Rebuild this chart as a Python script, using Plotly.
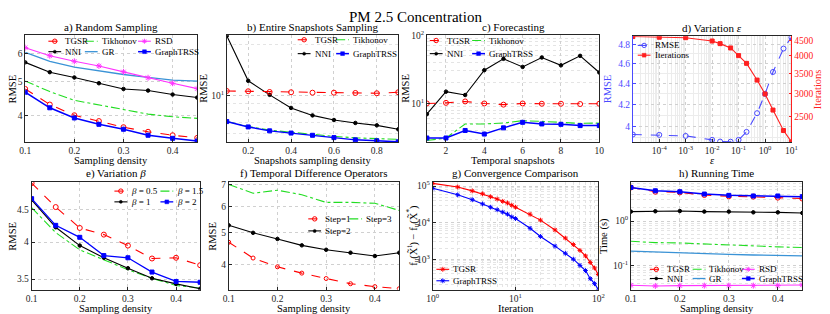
import math
import plotly.graph_objects as go

# ---------------- data ----------------
x_density = [0.1, 0.15, 0.2, 0.25, 0.3, 0.35, 0.4, 0.45]

a_tgsr = [4.76, 4.30, 4.01, 3.86, 3.71, 3.60, 3.52, 3.46]
a_tikh = [5.01, 4.68, 4.42, 4.29, 4.17, 4.04, 3.97, 3.93]
a_rsd = [6.23, 5.91, 5.70, 5.53, 5.32, 5.12, 4.94, 4.77]
a_nni = [5.66, 5.31, 5.13, 4.94, 4.76, 4.71, 4.59, 4.50]
a_gr = [6.04, 5.70, 5.49, 5.35, 5.23, 5.13, 5.04, 5.01]
a_graph = [4.66, 4.21, 3.94, 3.78, 3.66, 3.52, 3.45, 3.39]

x_snap = [0.1, 0.2, 0.3, 0.4, 0.5, 0.6, 0.7, 0.8, 0.9]
b_tgsr = [10.64, 10.6, 10.5, 10.46, 10.4, 10.4, 10.36, 10.32, 10.46]
b_tikh = [7.05, 6.6, 6.28, 6.1, 5.92, 5.78, 5.66, 5.6, 5.55]
b_nni = [22.4, 12.2, 10.1, 8.47, 7.66, 7.2, 6.92, 6.7, 6.35]
b_graph = [7.05, 6.56, 6.22, 6.04, 5.86, 5.68, 5.51, 5.44, 5.37]

x_temporal = [1, 2, 3, 4, 5, 6, 7, 8, 9, 10]
c_tgsr = [10.0, 10.2, 10.7, 10.0, 9.6, 10.0, 9.9, 9.9, 9.8, 9.9]
c_tikh = [2.85, 3.11, 5.0, 5.0, 5.16, 5.58, 5.45, 5.28, 5.10, 5.16]
c_nni = [6.95, 14.9, 13.3, 30.8, 45.2, 34.4, 47.3, 36.3, 50.0, 28.5]
c_graph = [3.11, 3.11, 4.01, 3.55, 4.38, 5.28, 5.0, 4.94, 4.73, 4.73]

x_eps = [1e-5, 1e-4, 1e-3, 1e-2, 2e-2, 5e-2, 1e-1, 2e-1, 5e-1, 1, 2, 5, 10]
d_rmse = [3.929, 3.926, 3.917, 3.883, 3.868, 3.867, 3.883, 3.952, 4.120, 4.30, 4.515, 4.756, 4.876]
d_iter = [4640, 4615, 4600, 4484, 4394, 4250, 4007, 3775, 3319, 2983, 2635, 2251, 2062]

e_b05 = [4.95, 4.54, 4.21, 4.11, 3.95, 3.77, 3.78, 3.68]
e_b1 = [4.66, 4.22, 3.95, 3.78, 3.64, 3.51, 3.44, 3.38]
e_b15 = [4.53, 4.14, 3.89, 3.75, 3.62, 3.51, 3.42, 3.39]
e_b2 = [4.68, 4.25, 4.07, 3.81, 3.78, 3.59, 3.47, 3.46]

f_s1 = [4.67, 4.18, 3.93, 3.76, 3.62, 3.49, 3.42, 3.37]
f_s2 = [5.26, 4.99, 4.78, 4.57, 4.43, 4.34, 4.24, 4.34]
f_s3 = [7.01, 6.59, 6.73, 6.52, 6.18, 6.18, 6.14, 5.84]

g_iter = [1, 2, 3, 4, 5, 6, 7, 8, 9, 10, 15, 20, 30, 40, 50, 60, 70, 80, 90, 100]
g_tgsr = [1.18e5, 9.4e4, 7.36e4, 6.12e4, 5.09e4, 4.41e4, 3.82e4, 3.45e4, 2.99e4, 2.64e4,
          1.69e4, 1.17e4, 6.3e3, 3.78e3, 2.51e3, 1.74e3, 1.23e3, 815, 575, 382]
g_graph = [8.67e4, 5.75e4, 4.24e4, 3.24e4, 2.64e4, 2.25e4, 1.94e4, 1.7e4, 1.43e4, 1.29e4,
           6.99e3, 4.19e3, 2.27e3, 1.45e3, 1.0e3, 677, 489, 293, 215, 149]

h_tgsr = [5.65, 4.54, 4.39, 3.84, 3.59, 3.53, 3.35, 3.19]
h_graph = [5.65, 4.77, 4.54, 4.03, 3.77, 3.65, 3.65, 3.53]
h_nni = [1.63, 1.66, 1.68, 1.63, 1.63, 1.57, 1.57, 1.52]
h_tikh = [0.353, 0.33, 0.324, 0.308, 0.284, 0.274, 0.265, 0.256]
h_gr = [0.213, 0.203, 0.193, 0.183, 0.180, 0.174, 0.171, 0.166]
h_rsd = [0.0365, 0.0353, 0.0359, 0.0359, 0.0359, 0.0359, 0.0359, 0.0371]

# ---------------- layout helpers ----------------
W, H = 830, 314
FONT = "Liberation Serif"
AX = "#262626"
GRID = "#d0d0d0"
TICK = 9.5
LAB = 10.5


def px(x):
    return x / W


def py(y):
    return 1 - y / H


# panel pixel boxes: (left, right, top, bottom)
BOX = {
    1: (19.5, 194, 29, 138),
    2: (224, 398, 29, 138),
    3: (427, 602, 29, 138),
    4: (636, 797, 30, 138),
    5: (26, 197, 179, 289),
    6: (226, 399, 179, 289),
    7: (433, 601, 179, 289),
    8: (634, 808, 179, 289),
}

STY = {
    'TGSR': dict(color='#ff0000', dash='dash', width=1.1, symbol='circle-open', msize=5),
    'Tikhonov': dict(color='#22dd22', dash='dashdot', width=1.1, symbol=None, msize=0),
    'RSD': dict(color='#ff33ff', dash='solid', width=1.1, symbol='asterisk-open', msize=5),
    'NNI': dict(color='#000000', dash='solid', width=1.1, symbol='circle', msize=3.5),
    'GR': dict(color='#3a93d6', dash='solid', width=1.3, symbol=None, msize=0),
    'GraphTRSS': dict(color='#0000ff', dash='solid', width=1.5, symbol='square', msize=4),
    'RMSEd': dict(color='#4a4aff', dash='dash', width=1.1, symbol='circle-open', msize=5),
    'Iter': dict(color='#ff2020', dash='solid', width=1.1, symbol='square', msize=4),
    'b05': dict(color='#ff0000', dash='dash', width=1.1, symbol='circle-open', msize=5),
    'b1': dict(color='#000000', dash='solid', width=1.1, symbol='circle', msize=3.5),
    'b15': dict(color='#22dd22', dash='dashdot', width=1.1, symbol=None, msize=0),
    'b2': dict(color='#0000ff', dash='solid', width=1.3, symbol='square', msize=4),
    's1': dict(color='#ff0000', dash='dash', width=1.1, symbol='circle-open', msize=4),
    's2': dict(color='#000000', dash='solid', width=1.1, symbol='circle', msize=3.5),
    's3': dict(color='#22dd22', dash='dashdot', width=1.1, symbol=None, msize=0),
    'gT': dict(color='#ff0000', dash='solid', width=1.1, symbol='asterisk-open', msize=4),
    'gG': dict(color='#0000ff', dash='solid', width=1.1, symbol='asterisk-open', msize=4),
}

fig = go.Figure()


def add(panel, xs, ys, key, yaxis=None):
    s = STY[key]
    n = '' if panel == 1 else str(panel)
    kw = dict(x=xs, y=ys, xaxis='x' + n, yaxis=yaxis or ('y' + n), showlegend=False,
              line=dict(color=s['color'], dash=s['dash'], width=s['width']),
              hoverinfo='skip')
    if s['symbol']:
        kw['mode'] = 'lines+markers'
        kw['marker'] = dict(symbol=s['symbol'], size=s['msize'], color=s['color'],
                            line=dict(color=s['color'], width=1))
    else:
        kw['mode'] = 'lines'
    fig.add_trace(go.Scatter(**kw))


for ys, k in [(a_gr, 'GR'), (a_rsd, 'RSD'), (a_nni, 'NNI'), (a_tikh, 'Tikhonov'),
              (a_tgsr, 'TGSR'), (a_graph, 'GraphTRSS')]:
    add(1, x_density, ys, k)
for ys, k in [(b_nni, 'NNI'), (b_tgsr, 'TGSR'), (b_tikh, 'Tikhonov'), (b_graph, 'GraphTRSS')]:
    add(2, x_snap, ys, k)
for ys, k in [(c_nni, 'NNI'), (c_tgsr, 'TGSR'), (c_tikh, 'Tikhonov'), (c_graph, 'GraphTRSS')]:
    add(3, x_temporal, ys, k)
add(4, x_eps, d_rmse, 'RMSEd')
add(4, x_eps, d_iter, 'Iter', yaxis='y9')
for ys, k in [(e_b05, 'b05'), (e_b15, 'b15'), (e_b1, 'b1'), (e_b2, 'b2')]:
    add(5, x_density, ys, k)
for ys, k in [(f_s3, 's3'), (f_s2, 's2'), (f_s1, 's1')]:
    add(6, x_density, ys, k)
add(7, g_iter, g_tgsr, 'gT')
add(7, g_iter, g_graph, 'gG')
for ys, k in [(h_gr, 'GR'), (h_tikh, 'Tikhonov'), (h_rsd, 'RSD'), (h_nni, 'NNI'),
              (h_tgsr, 'TGSR'), (h_graph, 'GraphTRSS')]:
    add(8, x_density, ys, k)


def log_minor(lo, hi):
    vals = []
    for e in range(-6, 7):
        for m in range(2, 10):
            v = m * 10 ** e
            if lo <= v <= hi:
                vals.append(v)
    return vals


def axis_common(color=AX):
    return dict(showline=True, linecolor=color, linewidth=0.8, mirror=True,
                ticks='inside', ticklen=3, tickcolor=color, tickwidth=0.8,
                showgrid=True, gridcolor=GRID, griddash='dot', gridwidth=0.8,
                zeroline=False, tickfont=dict(family=FONT, size=TICK, color=color))


sup = lambda e: '10<sup>%s</sup>' % e
lin_x = dict(range=[0.1, 0.45], tickvals=[0.1, 0.2, 0.3, 0.4], ticktext=['0.1', '0.2', '0.3', '0.4'])
MINOR = dict(showgrid=True, gridcolor='#e4e4e4', griddash='dot', ticks='')

XSPEC = {
    1: dict(type='linear', **lin_x),
    2: dict(type='linear', range=[0.1, 0.9], tickvals=[0.2, 0.4, 0.6, 0.8], ticktext=['0.2', '0.4', '0.6', '0.8']),
    3: dict(type='linear', range=[1, 10], tickvals=[2, 4, 6, 8, 10], ticktext=['2', '4', '6', '8', '10']),
    4: dict(type='log', range=[-5, 1], tickvals=[1e-4, 1e-3, 1e-2, 1e-1, 1, 10],
            ticktext=[sup('-4'), sup('-3'), sup('-2'), sup('-1'), sup('0'), sup('1')],
            minor=dict(tickvals=log_minor(1e-5, 10), showgrid=True, gridcolor='#ececec', griddash='solid', ticks='')),
    5: dict(type='linear', **lin_x),
    6: dict(type='linear', **lin_x),
    7: dict(type='log', range=[0, 2], tickvals=[1, 10, 100], ticktext=[sup('0'), sup('1'), sup('2')],
            minor=dict(tickvals=log_minor(1, 100), **MINOR)),
    8: dict(type='linear', **lin_x),
}
YSPEC = {
    1: dict(type='log', range=[math.log10(3.37), math.log10(6.75)], tickvals=[4, 5, 6], ticktext=['4', '5', '6']),
    2: dict(type='log', range=[math.log10(5.36), math.log10(22.5)], tickvals=[10], ticktext=[sup('1')],
            minor=dict(tickvals=log_minor(5.36, 22.5), **MINOR)),
    3: dict(type='log', range=[0.435, 2], tickvals=[10, 100], ticktext=[sup('1'), sup('2')],
            minor=dict(tickvals=log_minor(2.7, 100), **MINOR)),
    4: dict(type='log', range=[math.log10(3.865), math.log10(4.887)], tickvals=[4, 4.2, 4.4, 4.6, 4.8],
            ticktext=['4', '4.2', '4.4', '4.6', '4.8'],
            minor=dict(tickvals=[3.9, 4.1, 4.3, 4.5, 4.7], showgrid=True, gridcolor='#ececec', griddash='solid', ticks='')),
    5: dict(type='log', range=[math.log10(3.37), math.log10(4.97)], tickvals=[3.5, 4, 4.5], ticktext=['3.5', '4', '4.5']),
    6: dict(type='log', range=[math.log10(3.35), math.log10(7.13)], tickvals=[4, 5, 6, 7], ticktext=['4', '5', '6', '7']),
    7: dict(type='log', range=[2.17, 5.11], tickvals=[1e3, 1e4, 1e5], ticktext=[sup('3'), sup('4'), sup('5')],
            minor=dict(tickvals=log_minor(150, 1.3e5), **MINOR)),
    8: dict(type='log', range=[math.log10(0.0293), math.log10(7.5)], tickvals=[0.1, 1], ticktext=[sup('-1'), sup('0')],
            minor=dict(tickvals=log_minor(0.03, 7.5), **MINOR)),
}

layout = {}
for p in range(1, 9):
    l, r, t, b = BOX[p]
    n = '' if p == 1 else str(p)
    xa = axis_common()
    xa.update(XSPEC[p])
    xa.update(domain=[px(l), px(r)], anchor='y' + n)
    ya = axis_common('#4a4aff') if p == 4 else axis_common()
    if p == 4:
        ya['mirror'] = False
    ya.update(YSPEC[p])
    ya.update(domain=[py(b), py(t)], anchor='x' + n)
    layout['xaxis' + n] = xa
    layout['yaxis' + n] = ya

ya9 = axis_common('#ff2020')
ya9.update(type='log', range=[math.log10(2062), math.log10(4648)], tickvals=[2500, 3000, 3500, 4000, 4500],
           ticktext=['2500', '3000', '3500', '4000', '4500'], overlaying='y4', side='right', anchor='x4',
           showgrid=False, mirror=False)
layout['yaxis9'] = ya9
fig.update_layout(**layout)

# ---------------- annotations (titles, axis labels, legends) ----------------
ann = []
shapes = []


def text(x, y, s, size=LAB, color='#000', angle=0, xanchor='center'):
    ann.append(dict(x=px(x), y=py(y), xref='paper', yref='paper', text=s, showarrow=False,
                    xanchor=xanchor, yanchor='middle', textangle=angle,
                    font=dict(family=FONT, size=size, color=color)))


text(415, 10, 'PM 2.5 Concentration', size=15)

titles = {1: 'a) Random Sampling', 2: 'b) Entire Snapshots Sampling', 3: 'c) Forecasting',
          4: 'd) Variation <i>ε</i>', 5: 'e) Variation <i>β</i>', 6: 'f) Temporal Difference Operators',
          7: 'g) Convergence Comparison', 8: 'h) Running Time'}
for p, s in titles.items():
    l, r, t, b = BOX[p]
    text((l + r) / 2, t - 8.5, s, size=11)

xtitles = {1: 'Sampling density', 2: 'Snapshots sampling density', 3: 'Temporal snapshots',
           4: '<i>ε</i>', 5: 'Sampling density', 6: 'Sampling density', 7: 'Iteration', 8: 'Sampling density'}
for p, s in xtitles.items():
    l, r, t, b = BOX[p]
    text((l + r) / 2, b + 19, s)

ytitles = [(1, 7, 'RMSE', '#000'), (2, 201, 'RMSE', '#000'), (3, 405, 'RMSE', '#000'),
           (4, 610, 'RMSE', '#4a4aff'), (5, 7, 'RMSE', '#000'), (6, 210, 'RMSE', '#000'),
           (7, 413, 'f<sub>u</sub>(X̃<sup>t</sup>) − f<sub>u</sub>(X̃<sup>*</sup>)', '#000'),
           (8, 607, 'Time (s)', '#000')]
for p, x, s, c in ytitles:
    l, r, t, b = BOX[p]
    text(x, (t + b) / 2, s, color=c, angle=-90)
text(823, 84, 'Iterations', color='#ff2020', angle=-90)


def legend_entry(key, label, x0, y, L=13):
    s = STY[key]
    shapes.append(dict(type='line', xref='paper', yref='paper', x0=px(x0), x1=px(x0 + L), y0=py(y), y1=py(y),
                       line=dict(color=s['color'], width=s['width'], dash=s['dash'])))
    cx, cy = px(x0 + L / 2), py(y)
    sym = s['symbol']
    base = dict(xref='paper', yref='paper', xsizemode='pixel', ysizemode='pixel', xanchor=cx, yanchor=cy)
    if sym == 'circle-open':
        shapes.append(dict(type='circle', x0=-2.2, x1=2.2, y0=-2.2, y1=2.2,
                           line=dict(color=s['color'], width=1), fillcolor='rgba(0,0,0,0)', **base))
    elif sym == 'circle':
        shapes.append(dict(type='circle', x0=-1.5, x1=1.5, y0=-1.5, y1=1.5,
                           line=dict(color=s['color'], width=0.5), fillcolor=s['color'], **base))
    elif sym == 'square':
        shapes.append(dict(type='rect', x0=-1.9, x1=1.9, y0=-1.9, y1=1.9,
                           line=dict(color=s['color'], width=0.5), fillcolor=s['color'], **base))
    elif sym == 'asterisk-open':
        shapes.append(dict(type='path', path='M-2.5,0H2.5M0,-2.5V2.5M-1.8,-1.8L1.8,1.8M-1.8,1.8L1.8,-1.8',
                           line=dict(color=s['color'], width=0.9), **base))
    text(x0 + L + 2, y, label, size=9, xanchor='left')


LEG = [
    ('TGSR', 'TGSR', 43, 35), ('Tikhonov', 'Tikhonov', 80, 35), ('RSD', 'RSD', 134, 35),
    ('NNI', 'NNI', 43, 45.7), ('GR', 'GR', 80, 45.7), ('GraphTRSS', 'GraphTRSS', 134, 45.7),
    ('TGSR', 'TGSR', 296, 33.5), ('Tikhonov', 'Tikhonov', 335, 33.5),
    ('NNI', 'NNI', 296, 47.7), ('GraphTRSS', 'GraphTRSS', 335, 47.7),
    ('TGSR', 'TGSR', 430, 34.3), ('Tikhonov', 'Tikhonov', 473, 34.3),
    ('NNI', 'NNI', 430, 47.7), ('GraphTRSS', 'GraphTRSS', 473, 47.7),
    ('RMSEd', 'RMSE', 641, 39.3), ('Iter', 'Iterations', 641, 49.3),
    ('b05', '<i>β</i> = 0.5', 110, 188.3), ('b15', '<i>β</i> = 1.5', 156.7, 188.3),
    ('b1', '<i>β</i> = 1', 110, 199.3), ('b2', '<i>β</i> = 2', 156.7, 199.3),
    ('s1', 'Step=1', 306.7, 216.7), ('s3', 'Step=3', 348.3, 216.7),
    ('s2', 'Step=2', 306.7, 229),
    ('gT', 'TGSR', 436.7, 268.3), ('gG', 'GraphTRSS', 436.7, 280),
    ('TGSR', 'TGSR', 653.3, 268.3), ('Tikhonov', 'Tikhonov', 696.7, 268.3), ('RSD', 'RSD', 746.7, 268.3),
    ('NNI', 'NNI', 653.3, 277.7), ('GR', 'GR', 696.7, 277.7), ('GraphTRSS', 'GraphTRSS', 746.7, 277.7),
]
for key, label, x0, y in LEG:
    legend_entry(key, label, x0, y)

fig.update_layout(width=W, height=H, margin=dict(l=0, r=0, t=0, b=0),
                  paper_bgcolor='white', plot_bgcolor='white', showlegend=False,
                  annotations=ann, shapes=shapes, font=dict(family=FONT))

fig.write_html("out.html", config={'displayModeBar': False},
               post_script="document.documentElement.style.margin='0px';document.body.style.margin='0px';document.body.style.padding='0px';")
